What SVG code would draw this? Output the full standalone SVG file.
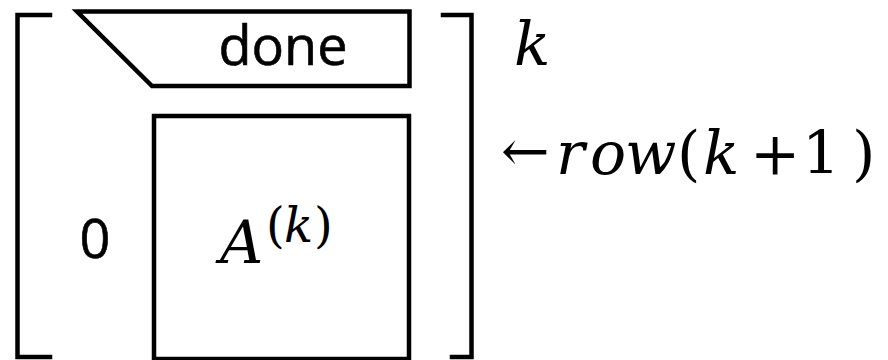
<svg xmlns="http://www.w3.org/2000/svg" width="888" height="360" viewBox="0 0 888 360">
<style>
.ln{fill:none;stroke:#000;stroke-width:4.5;stroke-linecap:square;stroke-linejoin:miter}
.sans{font-family:"Open Sans","Liberation Sans",sans-serif;font-size:54px;fill:#000;stroke:#000;stroke-width:0.6}
.m{font-family:"DejaVu Serif","Liberation Serif",serif;fill:#000}
.i{font-style:italic}
</style>
<g id="brackets">
<path class="ln" d="M50,15 H17.5 V357 H50"/>
<path class="ln" d="M443,15 H471.5 V357 H452"/>
</g>
<g id="done">
<path class="ln" d="M77,11.5 H409.5 V86 H152 Z"/>
<text class="sans" x="283" y="65" text-anchor="middle">done</text>
</g>
<g id="A">
<rect class="ln" x="154" y="116" width="255" height="243"/>
<text class="m i" x="220" y="263" font-size="60">A</text>
<text class="m" x="266" y="242" font-size="48">(<tspan class="i" x="284">k</tspan><tspan x="314">)</tspan></text>
</g>
<g id="zero">
<text class="sans" x="95" y="258" text-anchor="middle">0</text>
</g>
<g id="labels">
<text class="m i" x="514" y="65" font-size="60">k</text>
<text class="m" x="501" y="171" font-size="58">←</text>
<text class="m" y="174" font-size="60"><tspan class="i" x="556">r</tspan><tspan class="i" x="590">o</tspan><tspan class="i" x="625">w</tspan><tspan x="677">(</tspan><tspan class="i" x="703">k</tspan><tspan x="750">+</tspan><tspan x="802">1</tspan><tspan x="852">)</tspan></text>
</g>
</svg>
